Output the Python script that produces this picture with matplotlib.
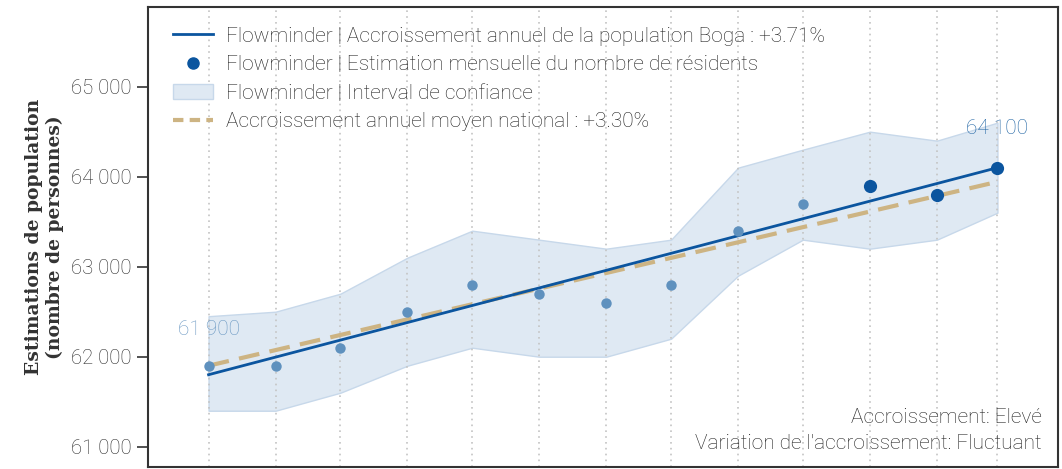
import numpy as np
import pandas as pd
import matplotlib.pyplot as plt
from matplotlib.patches import Patch
from matplotlib.lines import Line2D

# monthly estimates, March 2022 -> March 2023
dates = pd.date_range("2022-03-01", "2023-03-01", freq="MS")
residents = [61900, 61900, 62100, 62500, 62800, 62700, 62600, 62800,
             63400, 63700, 63900, 63800, 64100]
ci_low = [61400, 61400, 61600, 61900, 62100, 62000, 62000, 62200,
          62900, 63300, 63200, 63300, 63600]
ci_high = [62450, 62500, 62700, 63100, 63400, 63300, 63200, 63300,
           64100, 64300, 64500, 64400, 64600]
n_recent = 3  # last months drawn in the darker blue

# trend lines (first and last month)
trend_local = [61800, 64100]
trend_national = [61900, 63943]

blue = "#0b559f"
light_blue = "#5f91be"
tan = "#cdb483"
text_col = "#1e1e1e"

plt.rcParams['font.family'] = ['Roboto', 'DejaVu Sans']

fig = plt.figure(figsize=(10.62, 4.69), dpi=100)
ax = fig.add_axes([0.1394, 0.0043, 0.8568, 0.9808])

ax.fill_between(dates, ci_low, ci_high, color="#dfe9f3", edgecolor="#c7d8ea", linewidth=1)
ax.plot([dates[0], dates[-1]], trend_national, color=tan, lw=3, dashes=(5, 2.5))
ax.plot([dates[0], dates[-1]], trend_local, color=blue, lw=2)
ax.plot(dates[:-n_recent], residents[:-n_recent], "o", color=light_blue, ms=7.5, mec="none")
ax.plot(dates[-n_recent:], residents[-n_recent:], "o", color=blue, ms=9.5, mec="none")

ax.text(dates[0], residents[0] + 300, "61 900", color="#6c99c3", fontsize=15,
        fontweight="light", ha="center", va="bottom")
ax.text(dates[-1], residents[-1] + 330, "64 100", color="#2266a5", fontsize=15,
        fontweight="light", ha="center", va="bottom")

ax.text(0.982, 0.107, "Accroissement: Elevé", transform=ax.transAxes, ha="right",
        va="center", fontsize=15, fontweight="light", color=text_col)
ax.text(0.982, 0.052, "Variation de l'accroissement: Fluctuant", transform=ax.transAxes,
        ha="right", va="center", fontsize=15, fontweight="light", color=text_col)

ax.set_xlim(pd.Timestamp("2022-02-01"), pd.Timestamp("2023-03-29"))
ax.set_ylim(60775, 65885)
ax.set_xticks(dates)
ax.tick_params(axis="x", length=0, labelbottom=False)
ax.grid(axis="x", color="#c4c4c4", linestyle=(0, (1, 2.5)), lw=1.2)
ax.set_yticks([61000, 62000, 63000, 64000, 65000])
ax.set_yticklabels(["61 000", "62 000", "63 000", "64 000", "65 000"])
ax.tick_params(axis="y", length=8, width=1.2, pad=4, color="#333333", labelsize=14.7,
               labelcolor="#2a2a2a")
for lbl in ax.get_yticklabels():
    lbl.set_fontweight("light")
for s in ax.spines.values():
    s.set_color("#333333")
    s.set_linewidth(1.5)

ax.set_ylabel("Estimations de population\n(nombre de personnes)", family="DejaVu Serif",
              fontsize=13.5, fontweight="bold", color="#333333", linespacing=1.15, labelpad=5)

handles = [
    Line2D([], [], color=blue, lw=2),
    Line2D([], [], color=blue, marker="o", ls="none", ms=8),
    Patch(facecolor="#dfe9f3", edgecolor="#c7d8ea"),
    Line2D([], [], color=tan, lw=3, dashes=(2.5, 1.5)),
]
labels = [
    "Flowminder | Accroissement annuel de la population Boga : +3.71%",
    "Flowminder | Estimation mensuelle du nombre de résidents",
    "Flowminder | Interval de confiance",
    "Accroissement annuel moyen national : +3.30%",
]
leg = ax.legend(handles, labels, loc="upper left", bbox_to_anchor=(0.0275, 0.957),
                frameon=False, handlelength=1.9, handletextpad=0.65, labelspacing=0.45,
                borderaxespad=0, borderpad=0, prop={"weight": "light", "size": 15})
for t in leg.get_texts():
    t.set_color(text_col)

fig.savefig("out.png", dpi=100)
